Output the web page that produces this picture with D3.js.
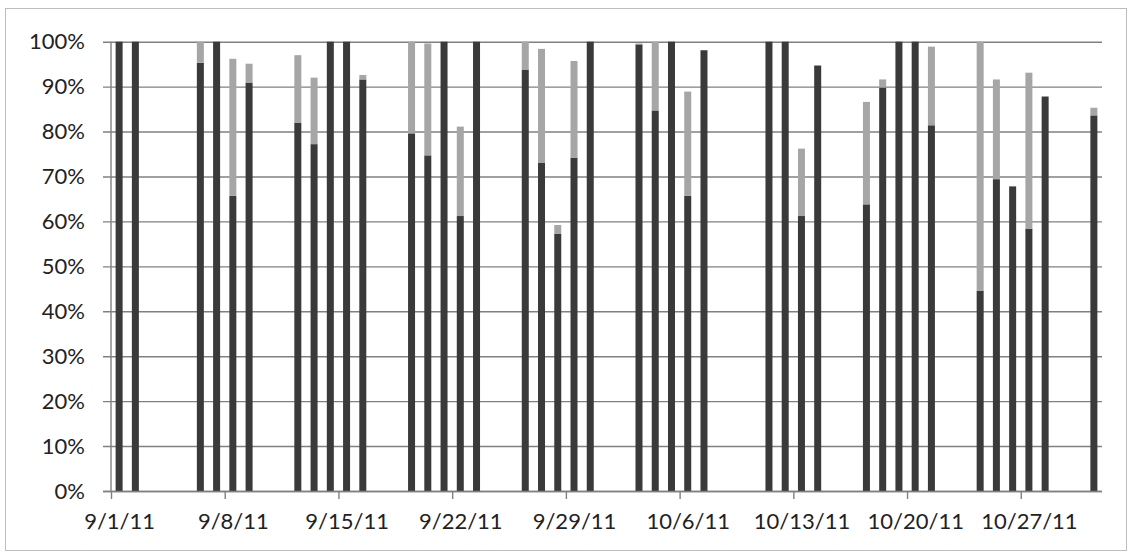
<!DOCTYPE html>
<html>
<head>
<meta charset="utf-8">
<script src="https://cdn.jsdelivr.net/npm/d3@7"></script>
<style>
  html, body { margin: 0; padding: 0; background: #fff; }
  svg { display: block; }
  text { font-family: Lato, "Open Sans", sans-serif; fill: #222; }
</style>
</head>
<body>
<svg id="chart" width="1128" height="554"></svg>
<script>
// ---- data ----
const dates = [
  "2011-09-01","2011-09-02",
  "2011-09-06","2011-09-07","2011-09-08","2011-09-09",
  "2011-09-12","2011-09-13","2011-09-14","2011-09-15","2011-09-16",
  "2011-09-19","2011-09-20","2011-09-21","2011-09-22","2011-09-23",
  "2011-09-26","2011-09-27","2011-09-28","2011-09-29","2011-09-30",
  "2011-10-03","2011-10-04","2011-10-05","2011-10-06","2011-10-07",
  "2011-10-11","2011-10-12","2011-10-13","2011-10-14",
  "2011-10-17","2011-10-18","2011-10-19","2011-10-20","2011-10-21",
  "2011-10-24","2011-10-25","2011-10-26","2011-10-27","2011-10-28",
  "2011-10-31"
];
// dark (bottom) series, percent
const darkValues = [
  100, 100,
  95.3, 100, 65.7, 90.9,
  82.0, 77.2, 100, 100, 91.6,
  79.6, 74.7, 100, 61.2, 100,
  93.8, 73.0, 57.2, 74.2, 100,
  99.4, 84.7, 100, 65.7, 98.1,
  100, 100, 61.2, 94.7,
  63.8, 89.8, 100, 100, 81.4,
  44.6, 69.4, 67.8, 58.4, 87.8,
  83.6
];
// light (top) series, percent
const lightValues = [
  0, 0,
  4.7, 0, 30.5, 4.2,
  15.0, 14.8, 0, 0, 1.0,
  20.4, 24.9, 0, 19.9, 0,
  6.2, 25.4, 2.0, 21.5, 0,
  0.2, 15.3, 0, 23.2, 0,
  0, 0, 15.0, 0,
  22.8, 1.8, 0, 0, 17.5,
  55.4, 22.2, 0, 34.7, 0,
  1.7
];
const yTickValues = [0,10,20,30,40,50,60,70,80,90,100];
const xTickDates = ["2011-09-01","2011-09-08","2011-09-15","2011-09-22","2011-09-29",
                    "2011-10-06","2011-10-13","2011-10-20","2011-10-27"];
const domainStart = "2011-09-01", domainEnd = "2011-11-01";

// ---- layout ----
const parse = d3.utcParse("%Y-%m-%d");
const fmt = d3.utcFormat("%-m/%-d/%y");
const plotLeft = 111, plotRight = 1102, plotTop = 41.7, plotBottom = 491;
const svg = d3.select("#chart");

// chart border
svg.append("rect").attr("x", 5.5).attr("y", 8.5).attr("width", 1121).attr("height", 542)
  .attr("fill", "none").attr("stroke", "#bdbdbd").attr("stroke-width", 1);

const x = d3.scaleUtc().domain([parse(domainStart), parse(domainEnd)]).range([plotLeft, plotRight]);
const y = d3.scaleLinear().domain([0, 100]).range([plotBottom, plotTop]);
const day = x(d3.utcDay.offset(parse(domainStart), 1)) - x(parse(domainStart));

// y axis with gridlines
const yAxis = d3.axisLeft(y).tickValues(yTickValues).tickFormat(d => d + "%")
  .tickSizeInner(-(plotRight - plotLeft)).tickSizeOuter(0).tickPadding(26);
const gy = svg.append("g").attr("transform", `translate(${plotLeft},0)`).call(yAxis);
gy.select(".domain").remove();
gy.selectAll(".tick line").attr("x1", -8).attr("stroke", "#808080").attr("stroke-width", 1.4);
gy.selectAll(".tick text").attr("font-size", 22).attr("fill", "#222")
  .attr("font-family", "Lato, 'Open Sans', sans-serif");

// y axis line
svg.append("line").attr("x1", plotLeft).attr("x2", plotLeft).attr("y1", plotTop).attr("y2", plotBottom)
  .attr("stroke", "#808080").attr("stroke-width", 1.4);

// bars
const data = dates.map((d, i) => ({ date: parse(d), dark: darkValues[i], light: lightValues[i] }));
const barW = 7;
const gb = svg.append("g");
gb.selectAll("rect.dark").data(data).join("rect").attr("class", "dark")
  .attr("x", d => x(d.date) + day / 2 - barW / 2).attr("width", barW)
  .attr("y", d => y(d.dark)).attr("height", d => y(0) - y(d.dark))
  .attr("fill", "#3a3a3a");
gb.selectAll("rect.light").data(data.filter(d => d.light > 0)).join("rect").attr("class", "light")
  .attr("x", d => x(d.date) + day / 2 - barW / 2).attr("width", barW)
  .attr("y", d => y(d.dark + d.light)).attr("height", d => y(d.dark) - y(d.dark + d.light))
  .attr("fill", "#a6a6a6");

// x axis
const xAxis = d3.axisBottom(x).tickValues(xTickDates.map(parse)).tickFormat(fmt)
  .tickSizeInner(8).tickSizeOuter(0).tickPadding(14);
const gx = svg.append("g").attr("transform", `translate(0,${plotBottom})`).call(xAxis);
gx.select(".domain").attr("d", `M${plotLeft - 8},0.5H${plotRight}`).attr("stroke", "#808080").attr("stroke-width", 1.4);
gx.selectAll(".tick line").attr("stroke", "#808080").attr("stroke-width", 1.4);
gx.selectAll(".tick text").attr("font-size", 22).attr("fill", "#222")
  .attr("font-family", "Lato, 'Open Sans', sans-serif")
  .attr("x", day / 2);
</script>
</body>
</html>
